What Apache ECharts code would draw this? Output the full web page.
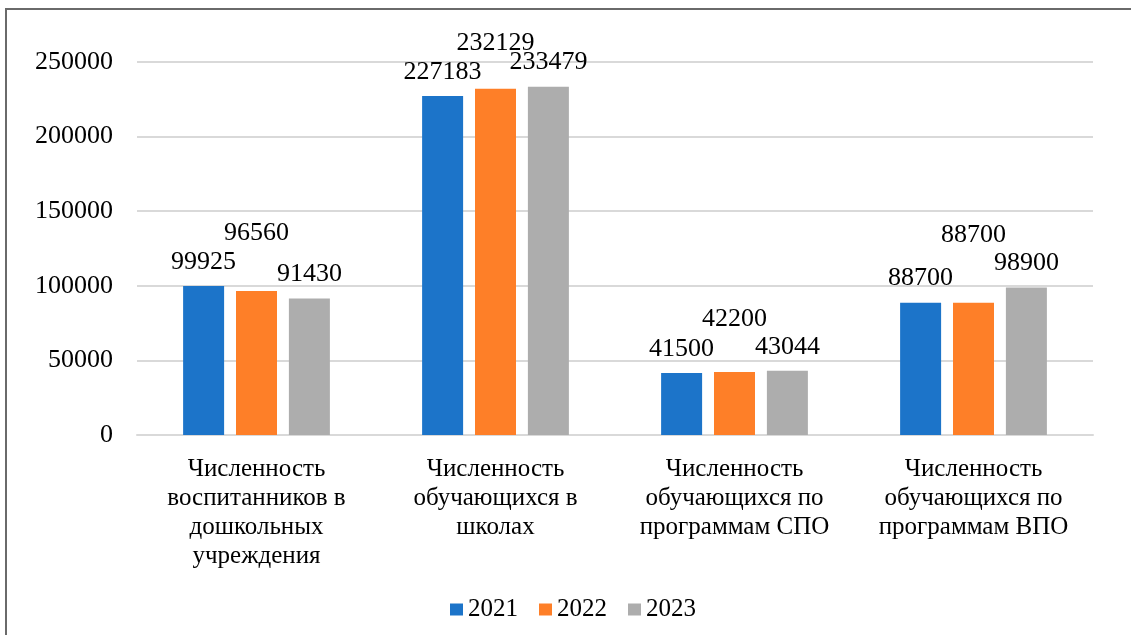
<!DOCTYPE html>
<html>
<head>
<meta charset="utf-8">
<script src="https://cdn.jsdelivr.net/npm/echarts@6/dist/echarts.min.js"></script>
<style>
html,body{margin:0;padding:0;background:#fff;}
#chart{width:1131px;height:635px;}
</style>
</head>
<body>
<div id="chart"></div>
<script>
const categories = [
  'Численность\nвоспитанников в\nдошкольных\nучреждения',
  'Численность\nобучающихся в\nшколах',
  'Численность\nобучающихся по\nпрограммам СПО',
  'Численность\nобучающихся по\nпрограммам ВПО'
];
const seriesNames = ['2021', '2022', '2023'];
const values2021 = [99925, 227183, 41500, 88700];
const values2022 = [96560, 232129, 42200, 88700];
const values2023 = [91430, 233479, 43044, 98900];
const yTicks = [0, 50000, 100000, 150000, 200000, 250000];

const FONT = 'Liberation Serif';
const colors = ['#1c74c9', '#fe7f28', '#adadad'];
const lift2022 = [34, 21, 29, 43];

function makeSeries(name, vals, idx) {
  return {
    name: name,
    type: 'bar',
    barWidth: 41,
    barGap: '29%',
    itemStyle: { color: colors[idx] },
    label: {
      show: true,
      position: 'top',
      distance: 11,
      color: '#000',
      fontFamily: FONT,
      fontSize: 26
    },
    data: vals.map((v, i) => idx === 1
      ? { value: v, label: { offset: [0, -lift2022[i]] } }
      : v)
  };
}

const chart = echarts.init(document.getElementById('chart'));
chart.setOption({
  animation: false,
  textStyle: { fontFamily: FONT },
  graphic: [{
    type: 'rect',
    shape: { x: 6, y: 9, width: 1300, height: 800 },
    style: { fill: 'none', stroke: '#6a6a6a', lineWidth: 2 },
    silent: true
  }],
  grid: { left: 137, right: 38, top: 62, bottom: 200, containLabel: false },
  legend: {
    data: seriesNames,
    bottom: 8,
    left: 445,
    icon: 'rect',
    itemWidth: 13,
    itemHeight: 12,
    itemGap: 21,
    textStyle: { fontFamily: FONT, fontSize: 25, color: '#000' }
  },
  xAxis: {
    type: 'category',
    data: categories,
    axisLine: { lineStyle: { color: '#d9d9d9', width: 2 } },
    axisTick: { show: false },
    axisLabel: {
      interval: 0,
      margin: 20,
      color: '#000',
      fontFamily: FONT,
      fontSize: 25,
      lineHeight: 29
    }
  },
  yAxis: {
    type: 'value',
    min: yTicks[0],
    max: yTicks[yTicks.length - 1],
    interval: yTicks[1] - yTicks[0],
    axisLine: { show: false },
    axisTick: { show: false },
    splitLine: { lineStyle: { color: '#d9d9d9', width: 2 } },
    axisLabel: {
      margin: 24,
      color: '#000',
      fontFamily: FONT,
      fontSize: 26,
      formatter: v => String(v)
    }
  },
  series: [
    makeSeries(seriesNames[0], values2021, 0),
    makeSeries(seriesNames[1], values2022, 1),
    makeSeries(seriesNames[2], values2023, 2)
  ]
});
</script>
</body>
</html>
